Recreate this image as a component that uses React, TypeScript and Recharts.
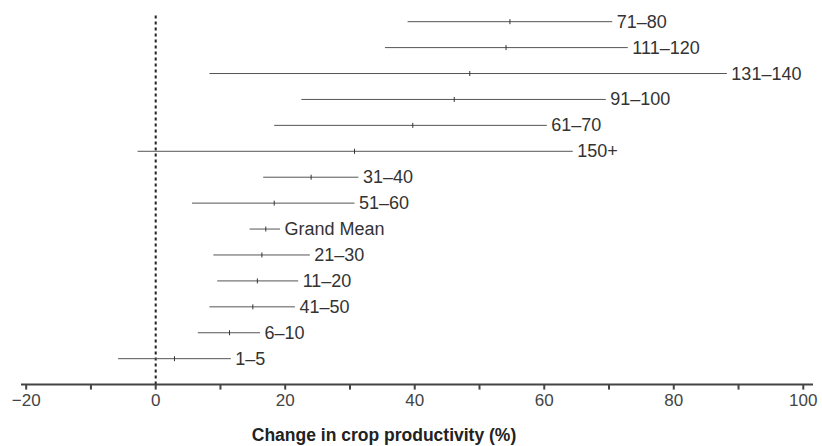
import { ComposedChart, Scatter, ErrorBar, XAxis, YAxis, ReferenceLine } from 'recharts';

const groups = ['71–80', '111–120', '131–140', '91–100', '61–70', '150+', '31–40', '51–60', 'Grand Mean', '21–30', '11–20', '41–50', '6–10', '1–5'];
const means = [54.7, 54.1, 48.5, 46.1, 39.7, 30.7, 24.0, 18.3, 17.0, 16.4, 15.7, 15.0, 11.4, 2.9];
const lows = [38.9, 35.4, 8.3, 22.5, 18.3, -2.8, 16.6, 5.6, 14.5, 8.9, 9.5, 8.3, 6.5, -5.8];
const highs = [70.5, 72.9, 88.2, 69.5, 60.4, 64.4, 31.3, 30.7, 19.2, 23.8, 22.0, 21.5, 16.1, 11.6];
const xTicks = [-20, -10, 0, 10, 20, 30, 40, 50, 60, 70, 80, 90, 100];
const xTitle = 'Change in crop productivity (%)';

const FONT = '"Liberation Sans", Arial, sans-serif';

const rows = groups.map((g, i) => ({
    name: g,
    y: i,
    x: means[i],
    err: [means[i] - lows[i], highs[i] - means[i]],
}));

const ends = groups.map((g, i) => ({ name: g, y: i, x: highs[i] }));

const MeanTick = (props: any) => {
    const { cx, cy } = props;
    return <line x1={cx} x2={cx} y1={cy - 2.5} y2={cy + 2.5} stroke="#333" strokeWidth={1} />;
};

const EndLabel = (props: any) => {
    const { cx, cy, payload } = props;
    return (
        <text x={cx + 4.5} y={cy} dominantBaseline="central" fontSize={18} fill="#333" fontFamily={FONT}>
            {payload.name}
        </text>
    );
};

const AxisTitle = (props: any) => {
    const vb = props.viewBox || {};
    return (
        <text
            x={vb.x + vb.width / 2 - 33}
            y={vb.y + vb.height - 5}
            textAnchor="middle"
            fontSize={17.5}
            fontWeight="bold"
            fill="#222"
            fontFamily={FONT}
        >
            {xTitle}
        </text>
    );
};

export default function App() {
    return (
        <div style={{ position: 'absolute', left: 0, top: 0, background: '#fff' }}>
            <ComposedChart width={822} height={446} margin={{ top: 12.6, right: 9, left: 21, bottom: 0 }}>
                <XAxis
                    type="number"
                    dataKey="x"
                    domain={[-20.8, 101.5]}
                    allowDataOverflow
                    ticks={xTicks}
                    interval={0}
                    tickFormatter={(v: number) => (v % 20 === 0 ? (v < 0 ? `−${Math.abs(v)}` : `${v}`) : '')}
                    axisLine={{ stroke: '#444', strokeWidth: 2 }}
                    tickLine={{ stroke: '#444', strokeWidth: 2 }}
                    tickSize={5}
                    tickMargin={4}
                    tick={{ fontSize: 17, fill: '#444', fontFamily: FONT }}
                    height={61.4}
                    label={<AxisTitle />}
                />
                <YAxis type="number" dataKey="y" domain={[-0.35, 14]} reversed hide allowDataOverflow />
                <ReferenceLine x={0} stroke="#222" strokeWidth={2} strokeDasharray="3 3" />
                <Scatter data={rows} shape={<MeanTick />} isAnimationActive={false}>
                    <ErrorBar dataKey="err" direction="x" width={0} stroke="#555" strokeWidth={1} isAnimationActive={false} />
                </Scatter>
                <Scatter data={ends} shape={<EndLabel />} isAnimationActive={false} />
            </ComposedChart>
        </div>
    );
}
